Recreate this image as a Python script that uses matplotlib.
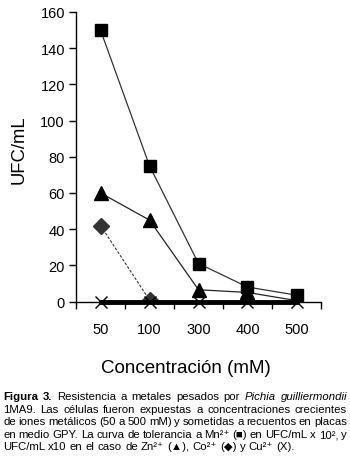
import matplotlib
matplotlib.use("Agg")
import matplotlib.pyplot as plt

plt.rcParams['font.family'] = ['Liberation Sans', 'DejaVu Sans']

# datos
concentraciones = ["50", "100", "300", "400", "500"]
mn = [150, 75, 21, 8, 3.5]      # UFC/mL x 10^2
zn = [60, 45, 6.5, 5, 0.5]      # UFC/mL x 10
co = [42, 0.8]                  # solo 50 y 100 mM
cu = [0, 0, 0, 0, 0]

leyenda = [
    "**Figura** **3.** Resistencia a metales pesados por *Pichia* *guilliermondii*",
    "1MA9. Las células fueron expuestas a concentraciones crecientes",
    "de iones metálicos (50 a 500 mM) y sometidas a recuentos en placas",
    "en medio GPY. La curva de tolerancia a Mn²⁺ (■) en UFC/mL x 10², y",
    "UFC/mL x10 en el caso de Zn²⁺ (▲), Co²⁺ (◆) y Cu²⁺ (X).",
]

fig = plt.figure(figsize=(3.5, 4.6), dpi=100)
ax = fig.add_axes([76/350, 1 - 302.5/460, 245/350, 289.5/460])

x = list(range(len(concentraciones)))
ax.plot(x[:len(co)], co, color='#333333', lw=0.8, ls=(0, (2.5, 1.5)),
        marker='D', ms=8, mfc='#333333', mec='#333333', zorder=2)
ax.plot(x, zn, color='#222222', lw=0.9, marker='^', ms=10,
        mfc='black', mec='black', zorder=3)
ax.plot(x, mn, color='#333333', lw=0.9, marker='s', ms=9,
        mfc='black', mec='black', zorder=4)
ax.plot(x, cu, color='black', lw=3.5, marker='x', ms=8, mew=1,
        zorder=5, clip_on=False)

ax.set_xlim(-0.5, 4.5)
ax.set_ylim(0, 160)
ax.set_yticks(range(0, 161, 20))
ax.set_xticks(x)
ax.set_xticklabels(concentraciones)
ax.set_xticks([i - 0.5 for i in range(6)], minor=True)
ax.tick_params(axis='x', which='major', length=0, pad=15, labelsize=10.5)
ax.tick_params(axis='x', which='minor', length=5, width=1, direction='out')
ax.tick_params(axis='y', length=5, width=1, direction='out', pad=3, labelsize=10.5)
for lado in ['top', 'right']:
    ax.spines[lado].set_visible(False)
for lado in ['left', 'bottom']:
    ax.spines[lado].set_linewidth(1)

fig.text(186/350, 1 - 373/460, "Concentración (mM)", fontsize=13.5,
         ha='center', va='baseline')
fig.text(19.5/350, 1 - 150/460, "UFC/mL", fontsize=13.3, rotation=90,
         ha='center', va='center')

# leyenda justificada, palabra por palabra
fig.canvas.draw()
renderer = fig.canvas.get_renderer()
tam = 8.2
x0, x1 = 3, 347
bases = [400, 413, 425.5, 438, 450.5]
for n, linea in enumerate(leyenda):
    textos = []
    for palabra in linea.split(" "):
        estilo = {}
        if palabra.startswith("**"):
            palabra = palabra.strip("*")
            estilo['fontweight'] = 'bold'
        elif palabra.startswith("*"):
            palabra = palabra.strip("*")
            estilo['fontstyle'] = 'italic'
        t = fig.text(0, 1 - bases[n]/460, palabra, fontsize=tam,
                     va='baseline', ha='left', **estilo)
        textos.append(t)
    anchos = [t.get_window_extent(renderer).width for t in textos]
    if n < len(leyenda) - 1:
        hueco = (x1 - x0 - sum(anchos)) / (len(textos) - 1)
    else:
        hueco = tam * 100 / 72 * 0.278
    pos = x0
    for t, a in zip(textos, anchos):
        t.set_x(pos / 350)
        pos += a + hueco

fig.savefig("out.png", dpi=100)
